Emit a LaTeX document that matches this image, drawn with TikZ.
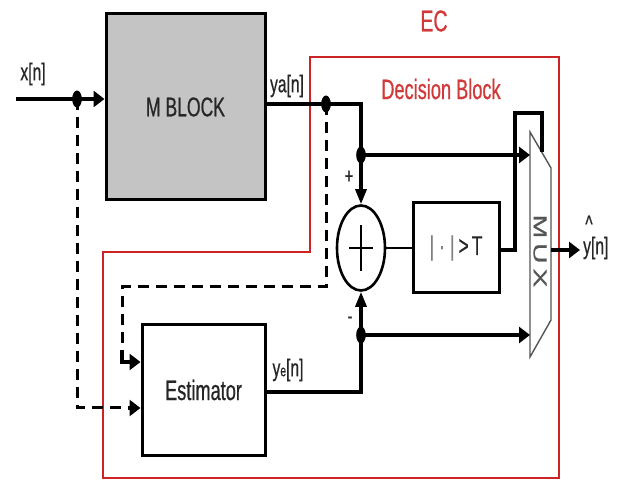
\documentclass[tikz,border=0pt]{standalone}
\usepackage{fontspec}
\setmainfont{Liberation Sans}
\newfontfamily\cond{Liberation Sans}[FakeStretch=0.65,FakeBold=0.6]
\newfontfamily\muxfont{Liberation Sans}[FakeBold=0.5]
\usetikzlibrary{arrows.meta,shapes.geometric}
\definecolor{ecred}{HTML}{CC2424}
\definecolor{ectext}{HTML}{D03A3A}
\definecolor{txt}{HTML}{262626}
\definecolor{boxgray}{HTML}{C4C4C4}
\definecolor{muxgray}{HTML}{555555}
\begin{document}
\begin{tikzpicture}[x=1pt,y=-1pt,
  wire/.style={line width=3.2pt, draw=black, line join=miter},
  thinwire/.style={line width=2pt, draw=black},
  dwire/.style={line width=3pt, draw=black, dash pattern=on 11pt off 7pt},
  harr/.style={-{Triangle[length=11pt,width=16pt]}},
  varr/.style={-{Triangle[length=15pt,width=11pt]}},
  blk/.style={draw=black, line width=3pt, inner sep=0pt},
  lbl/.style={font=\cond\fontsize{24}{24}\selectfont, text=txt, inner sep=0pt},
  redlbl/.style={font=\cond\fontsize{28}{28}\selectfont, text=ectext, inner sep=0pt},
  jdot/.style={fill=black}
]
\useasboundingbox[fill=white] (0,0) rectangle (622,481);

% EC red outline
\draw[ecred, line width=2.8pt] (310,57) -- (559,57) -- (559,478) -- (103,478) -- (103,252) -- (310,252) -- cycle;

% blocks
\node[blk, fill=boxgray, minimum width=159pt, minimum height=186pt,
      font=\cond\fontsize{27}{27}\selectfont, text=txt] (mblock) at (185.5,107) {M BLOCK};
\node[blk, fill=white, minimum width=123pt, minimum height=130pt,
      font=\cond\fontsize{28}{28}\selectfont, text=txt] (est) at (203.5,390) {Estimator};
\node[blk, fill=white, minimum width=86pt, minimum height=90pt,
      font=\cond\fontsize{27}{27}\selectfont, text=txt] (thr) at (456,248)
      {{\color{gray}|}\hspace{5pt}{\color{gray}·}\hspace{5pt}{\color{gray}|}\hspace{4pt}>\hspace{3pt}T};
\node[ellipse, draw=black, line width=2.6pt, minimum width=48pt, minimum height=85pt, inner sep=0pt] (sum) at (361,248) {};
\draw[line width=2.4pt] ([xshift=-12pt]sum.center) -- ([xshift=12pt]sum.center);
\draw[line width=2.4pt] ([yshift=-23pt]sum.center) -- ([yshift=23pt]sum.center);

% MUX
\coordinate (muxA) at (530,132);
\coordinate (muxB) at (551,168);
\coordinate (muxC) at (551,320);
\coordinate (muxD) at (530,357);
\coordinate (muxout) at (551,250);
\coordinate (muxsel) at (542,152);
\draw[muxgray, line width=1.4pt, fill=white] (muxA) -- (muxB) -- (muxC) -- (muxD) -- cycle;
\node[rotate=-90, text=muxgray, inner sep=0pt] (muxlbl) at (540,251) {\scalebox{1.5}[1]{\muxfont\fontsize{19}{19}\selectfont M\,U\,X}};

% coordinates
\coordinate (xin) at (16,99);
\coordinate (xdot) at (77,99);
\coordinate (yastart) at (265,104);
\coordinate (yadot) at (326,104);
\coordinate (yacorner) at (361,104);
\coordinate (topdot) at (361,155);
\coordinate (estout) at (265,392);
\coordinate (estcorner) at (361,392);
\coordinate (botdot) at (361,335);
\coordinate (selA) at (515,250);
\coordinate (selB) at (515,113);
\coordinate (selC) at (542,113);
\coordinate (yend) at (580,250);
\coordinate (d1) at (77,408);
\coordinate (d1e) at (128,408);
\coordinate (d2a) at (326,287);
\coordinate (d2b) at (122,287);
\coordinate (d2s) at (122,350);
\coordinate (d2c) at (122,362);
\coordinate (d2e) at (130,362);

% solid wires
\draw[wire, harr] (xin) -- (mblock.west |- xdot);
\draw[wire] (yastart) -- (yacorner) -- (topdot);
\draw[wire, varr] (topdot) -- (sum.north);
\draw[wire, harr] (topdot) -- (muxA |- topdot);
\draw[wire] (estout) -- (estcorner) -- (botdot);
\draw[wire, varr] (botdot) -- (sum.south);
\draw[wire, harr] (botdot) -- (muxA |- botdot);
\draw[thinwire] (sum.east) -- (thr.west);
\draw[wire] (thr.east |- selA) -- (selA) -- (selB) -- (selC) -- (muxsel);
\draw[wire, harr] (muxout) -- (yend);

% dashed wires
\draw[dwire] (xdot) -- (d1) -- (d1e);
\draw[wire, harr] (d1e) -- (est.west |- d1);
\draw[dwire] (yadot) -- (d2a) -- (d2b) -- (d2s);
\draw[wire] (d2s) -- (d2c) -- (d2e);
\draw[wire, harr] (d2e) -- (est.west |- d2c);

% junction dots
\fill[jdot] (xdot) ellipse [x radius=4.8, y radius=8.5];
\fill[jdot] (yadot) ellipse [x radius=4.8, y radius=8.5];
\fill[jdot] (topdot) ellipse [x radius=4.8, y radius=8.5];
\fill[jdot] (botdot) ellipse [x radius=4.8, y radius=8.5];

% labels
\node[lbl] (xlbl) at (33,74) {x[n]};
\node[lbl] (yalbl) at (287,86) {ya[n]};
\node[lbl] (yelbl) at (288,370) {y{\fontsize{16}{16}\selectfont e}[n]};
\node[lbl, font=\cond\fontsize{22}{22}\selectfont] (plus) at (349,177) {+};
\node[lbl, font=\cond\fontsize{22}{22}\selectfont] (minus) at (350,320) {-};
\node[lbl] (hat) at (589,224) {\textasciicircum};
\node[lbl, anchor=west] (yhat) at (583,248) {y[n]};
\node[redlbl, font=\cond\fontsize{30}{30}\selectfont] (ec) at (434,21) {EC};
\node[redlbl] (dec) at (441,89) {Decision Block};
\end{tikzpicture}
\end{document}
